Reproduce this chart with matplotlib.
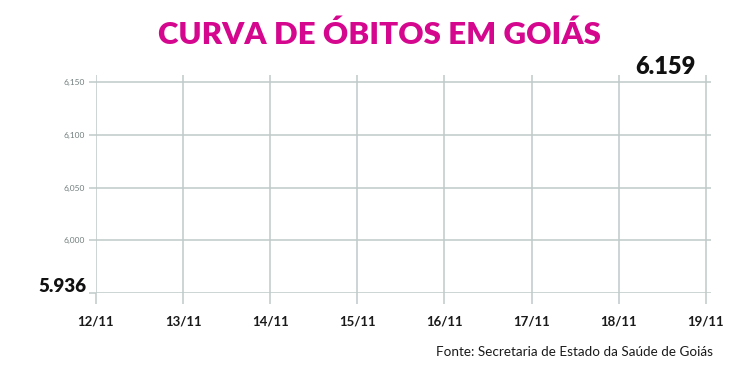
import matplotlib
matplotlib.use("Agg")
import matplotlib.pyplot as plt

dates = ["12/11", "13/11", "14/11", "15/11", "16/11", "17/11", "18/11", "19/11"]
yticks = [5950, 6000, 6050, 6100, 6150]
ytick_labels = ["", "6,000", "6,050", "6,100", "6,150"]
first_value = 5936
last_value = 6159
first_label = "5.936"
last_label = "6.159"

W, H = 756, 387
fig = plt.figure(figsize=(W / 100, H / 100), dpi=100)
ax = fig.add_axes([96 / W, 1 - 293 / H, (711 - 96) / W, (293 - 75) / H])

grid_c = "#bfcac8"
x = list(range(len(dates)))
ax.set_xlim(0, 7.06)
ax.set_ylim(5950, 6157)
ax.set_xticks(x)
ax.set_xticklabels(dates, fontsize=9.5, fontweight="bold", family="Lato", color="#1a1a1a")
ax.set_yticks(yticks)
ax.set_yticklabels(ytick_labels, fontsize=6, family="Lato", color="#707c7c")
ax.grid(True, color=grid_c, linewidth=1.1)
for s in ax.spines.values():
    s.set_visible(False)
ax.tick_params(axis="x", length=8, width=1.1, color=grid_c, pad=8)
ax.tick_params(axis="y", length=5, width=1.1, color=grid_c, pad=3)

ax.annotate(first_label, xy=(x[0], first_value), xytext=(-7, 15), textcoords="offset points",
            ha="right", va="center", fontsize=13.5, fontweight="heavy", family="Lato",
            color="#111111", annotation_clip=False)
ax.annotate(last_label, xy=(x[-1], last_value), xytext=(-7, 4.5), textcoords="offset points",
            ha="right", va="center", fontsize=17, fontweight="heavy", family="Lato",
            color="#111111", annotation_clip=False)

fig.text(379 / W, 1 - 35 / H, "CURVA DE ÓBITOS EM GOIÁS", ha="center", va="center",
         fontsize=22.5, fontweight="heavy", family="Lato", color="#d4078e")
fig.text(713 / W, 1 - 352 / H, "Fonte: Secretaria de Estado da Saúde de Goiás",
         ha="right", va="center", fontsize=9.7, family="Lato", color="#1a1a1a")

fig.savefig("out.png", dpi=100)
